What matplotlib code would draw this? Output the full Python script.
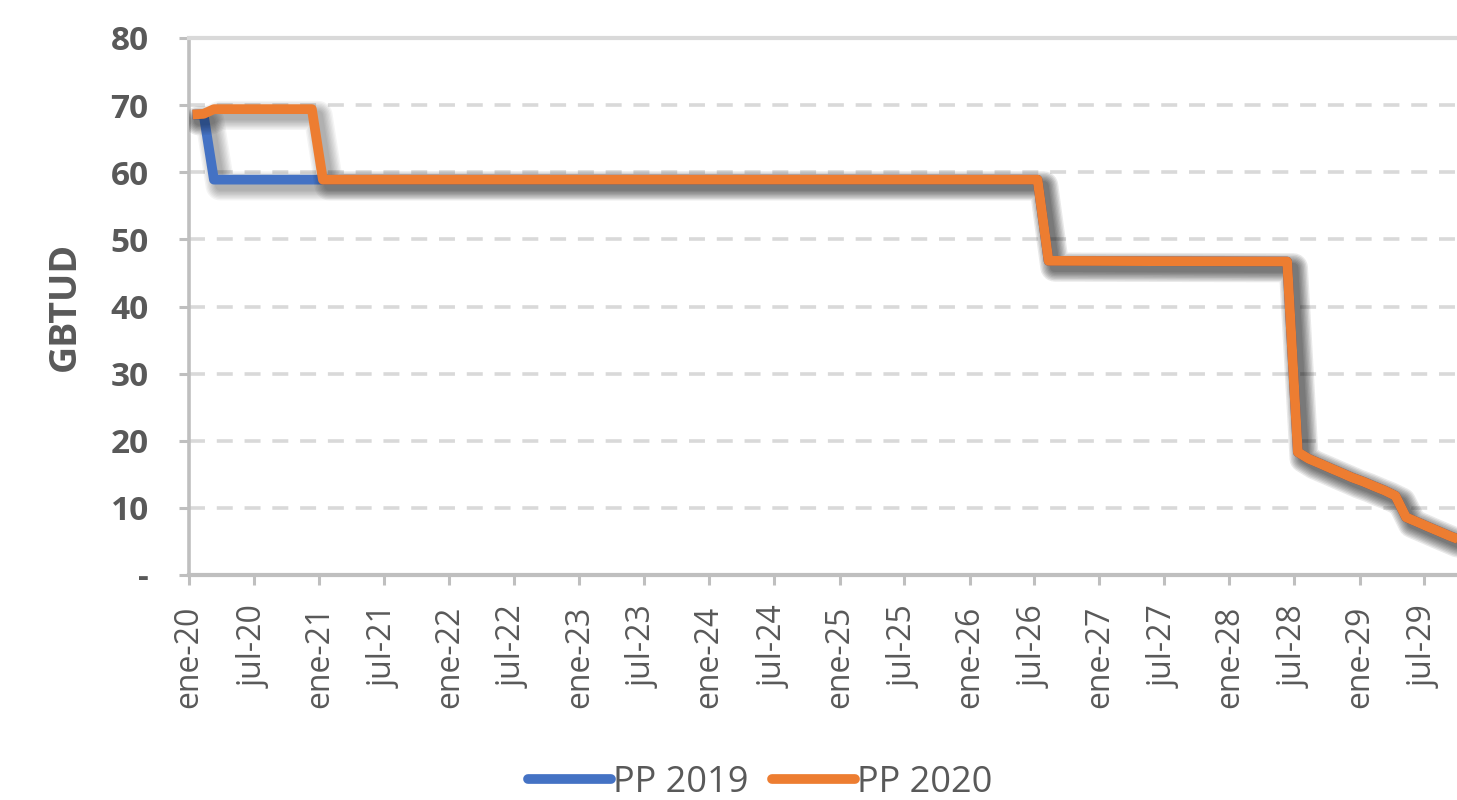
import matplotlib
matplotlib.use("Agg")
import matplotlib.pyplot as plt
import matplotlib.patheffects as pe
import pandas as pd

# ---- data (breakpoints; values are linear between consecutive monthly points) ----
pp2019_dates = ["2020-01-01", "2020-02-01", "2020-03-01", "2026-07-01", "2026-08-01",
                "2028-06-01", "2028-07-01", "2028-08-01", "2028-09-01", "2028-10-01",
                "2028-11-01", "2028-12-01", "2029-01-01", "2029-02-01", "2029-03-01",
                "2029-04-01", "2029-05-01", "2029-06-01", "2029-07-01", "2029-08-01",
                "2029-09-01", "2029-10-01"]
pp2019_values = [68.6, 68.6, 58.9, 58.9, 46.8,
                 46.7, 18.3, 17.3, 16.6, 15.9,
                 15.2, 14.5, 13.9, 13.2, 12.6,
                 11.8, 8.6, 7.9, 7.2, 6.5,
                 5.8, 5.2]

pp2020_dates = ["2020-01-01", "2020-02-01", "2020-03-01", "2020-12-01", "2021-01-01",
                "2026-07-01", "2026-08-01",
                "2028-06-01", "2028-07-01", "2028-08-01", "2028-09-01", "2028-10-01",
                "2028-11-01", "2028-12-01", "2029-01-01", "2029-02-01", "2029-03-01",
                "2029-04-01", "2029-05-01", "2029-06-01", "2029-07-01", "2029-08-01",
                "2029-09-01", "2029-10-01"]
pp2020_values = [68.6, 68.7, 69.4, 69.4, 58.9,
                 58.9, 46.8,
                 46.7, 18.3, 17.3, 16.6, 15.9,
                 15.2, 14.5, 13.9, 13.2, 12.6,
                 11.8, 8.6, 7.9, 7.2, 6.5,
                 5.8, 5.2]

tick_dates = ["2020-01-01", "2020-07-01", "2021-01-01", "2021-07-01", "2022-01-01",
              "2022-07-01", "2023-01-01", "2023-07-01", "2024-01-01", "2024-07-01",
              "2025-01-01", "2025-07-01", "2026-01-01", "2026-07-01", "2027-01-01",
              "2027-07-01", "2028-01-01", "2028-07-01", "2029-01-01", "2029-07-01"]
tick_labels = ["ene-20", "jul-20", "ene-21", "jul-21", "ene-22", "jul-22", "ene-23",
               "jul-23", "ene-24", "jul-24", "ene-25", "jul-25", "ene-26", "jul-26",
               "ene-27", "jul-27", "ene-28", "jul-28", "ene-29", "jul-29"]
y_ticks = [0, 10, 20, 30, 40, 50, 60, 70, 80]
y_tick_labels = ["-", "10", "20", "30", "40", "50", "60", "70", "80"]
series_names = ["PP 2019", "PP 2020"]

# ---- style ----
plt.rcParams["font.family"] = ["Open Sans", "DejaVu Sans"]
plt.rcParams["lines.scale_dashes"] = False
TXT = "#595959"
GRID = "#D9D9D9"
AX = "#BFBFBF"
BLUE = "#4472C4"
ORANGE = "#ED7D31"
LW = 7

fig = plt.figure(figsize=(14.57, 8), dpi=100)
W, H = 1457, 800
ax = fig.add_axes([189 / W, 1 - 575 / H, 1 - 189 / W, (575 - 38) / H])

# small display offset so points sit slightly right of the month ticks, as in the source
shift = pd.Timedelta(days=10)
x19 = pd.to_datetime(pp2019_dates) + shift
x20 = pd.to_datetime(pp2020_dates) + shift

def shadow():
    effs = []
    for extra in [14, 12, 10, 8, 6, 4, 2, 0]:
        effs.append(pe.SimpleLineShadow(offset=(4.5, -4.5), shadow_color="black",
                                        alpha=0.045, rho=1.0, linewidth=LW + extra,
                                        capstyle="round", joinstyle="round"))
    effs.append(pe.Normal())
    return effs

ax.plot(x19, pp2019_values, color=BLUE, lw=LW, solid_joinstyle="round",
        solid_capstyle="butt", label=series_names[0], path_effects=shadow(), zorder=3)
ax.plot(x20, pp2020_values, color=ORANGE, lw=LW, solid_joinstyle="round",
        solid_capstyle="butt", label=series_names[1], path_effects=shadow(), zorder=4)

ax.set_xlim(pd.Timestamp("2020-01-01"), pd.Timestamp("2029-10-01"))
ax.set_ylim(0, 80)

ax.set_yticks(y_ticks)
ax.set_yticklabels(y_tick_labels, fontsize=24, fontweight="bold", color=TXT)
ax.set_xticks(pd.to_datetime(tick_dates))
ax.set_xticklabels(tick_labels, rotation=90, fontsize=23, color=TXT)

ax.tick_params(axis="y", length=7, width=2.2, color=AX, pad=22)
ax.tick_params(axis="x", length=7, width=2.2, color=AX, pad=15)

for y in y_ticks[1:-1]:
    ax.axhline(y, color=GRID, lw=2.6, linestyle=(0, (11.5, 8.5)), zorder=1)

ax.spines["right"].set_visible(False)
ax.spines["top"].set_color(GRID)
ax.spines["top"].set_linewidth(3)
ax.spines["left"].set_color(AX)
ax.spines["left"].set_linewidth(2.6)
ax.spines["bottom"].set_linewidth(3)
ax.spines["bottom"].set_color(AX)

ax.set_ylabel("GBTUD", fontsize=27, fontweight="bold", color=TXT)
ax.yaxis.set_label_coords(-0.083, 0.5)

ax.patch.set_alpha(0)

leg = fig.legend(loc="center", bbox_to_anchor=(760 / W, 1 - 783 / H), ncol=2,
                 frameon=False, fontsize=26, handlelength=2.3, handletextpad=0.05,
                 columnspacing=0.65, labelcolor=TXT)
for h in leg.get_lines():
    h.set_linewidth(7)
    h.set_solid_capstyle("round")
    h.set_path_effects([])

fig.savefig("out.png", dpi=100)
